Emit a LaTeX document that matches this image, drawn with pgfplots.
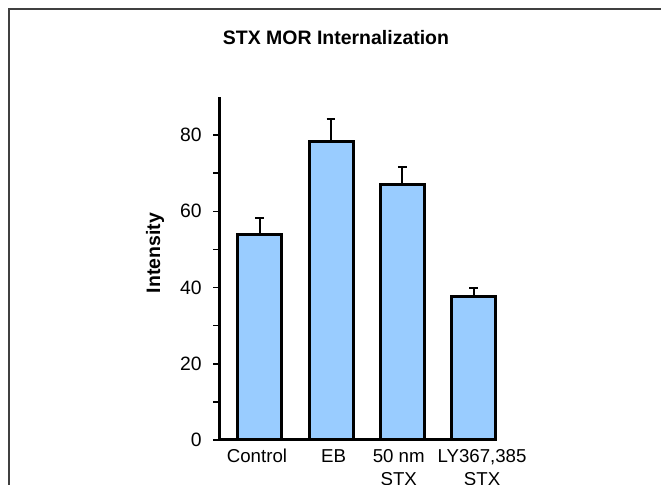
\documentclass[border=0pt]{standalone}
\usepackage{pgfplots}
\pgfplotsset{compat=1.18}
\usepackage{fontspec}
\setmainfont{Liberation Sans}
\definecolor{barblue}{HTML}{99CCFF}
\begin{document}
\begin{tikzpicture}
\useasboundingbox (0,0) rectangle (495.75pt,363.75pt);
\draw[line width=1.5pt, black!75] (6.75pt,-2pt) -- (6.75pt,357pt) -- (498pt,357pt);
\node[anchor=base, font=\fontsize{14.6}{17}\selectfont\bfseries] at (252pt,330pt) {STX MOR Internalization};
\node[rotate=90, font=\fontsize{14.6}{17}\selectfont\bfseries] at (116.25pt,174pt) {Intensity};
\begin{axis}[
  at={(164.25pt,33.75pt)}, anchor=south west,
  scale only axis, width=208.5pt, height=257.25pt,
  xmin=-0.573, xmax=3.33, ymin=0, ymax=90,
  axis x line=bottom, axis y line=left,
  axis line style={-, line width=2.25pt},
  ybar, bar width=33pt,
  xtick={-0.04,1.035,1.95,3.12},
  xticklabels={Control, EB, {50 nm\\STX}, {LY367,385\\STX}},
  xticklabel style={align=center, font=\fontsize{14}{17.25}\selectfont, yshift=1pt},
  x tick style={draw=none},
  ytick={0,20,40,60,80},
  minor ytick={10,30,50,70},
  y tick style={line width=1.2pt, black},
  tick align=outside,
  major tick length=4.5pt, minor tick length=4.5pt,
  yticklabel style={font=\fontsize{14.5}{17}\selectfont, xshift=-5pt},
  /pgf/number format/assume math mode=true,
  clip=false,
]
\addplot[fill=barblue, draw=black, line width=2.25pt,
  error bars/.cd, y dir=plus, y explicit,
  error bar style={line width=1.5pt, black},
  error mark options={line width=1.5pt, mark size=3.3pt, rotate=90}]
  table[x=x, y=y, y error=e] {
x y e
0 53.8 4.5
1 78.4 5.7
2 67.1 4.6
3 37.7 2.2
};
\end{axis}
\end{tikzpicture}
\end{document}
